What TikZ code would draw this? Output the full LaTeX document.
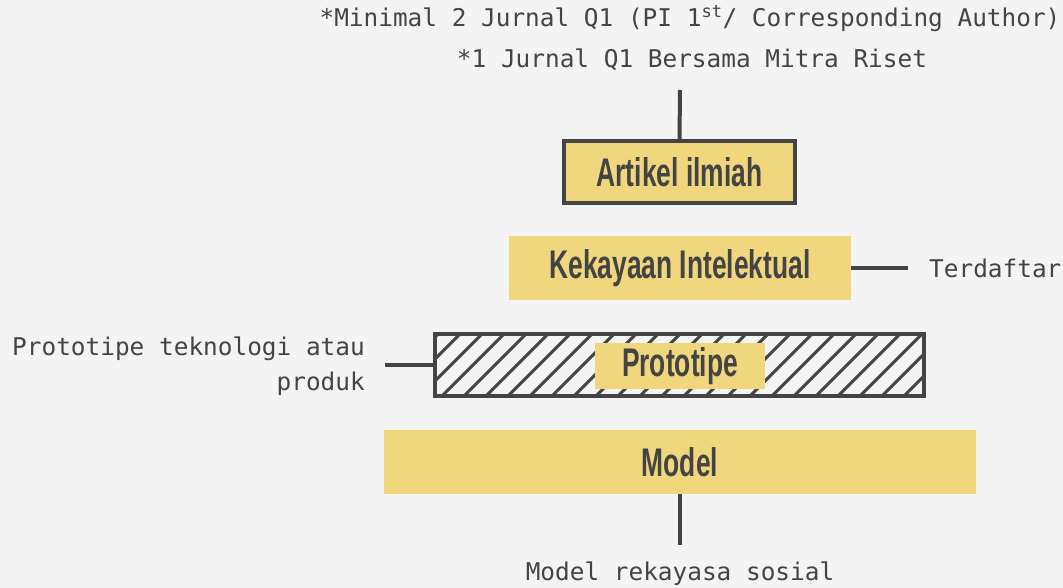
\documentclass[tikz,border=0pt]{standalone}
\usepackage{fontspec}
\setmonofont{DejaVu Sans Mono}
\newfontfamily\boxfont{Liberation Sans}[FakeStretch=0.66]
\definecolor{latar}{HTML}{F4F4F4}
\definecolor{tinta}{HTML}{444444}
\definecolor{kuning}{HTML}{F0D77E}

\begin{document}
\begin{tikzpicture}[x=1pt,y=-1pt,
	kotak/.style={fill=kuning, inner sep=0pt, text=tinta, font=\boxfont\bfseries\fontsize{40}{44}\selectfont},
	garis/.style={draw=tinta, line width=4pt},
	ket/.style={inner sep=0pt, text=tinta, font=\ttfamily\fontsize{24.4}{35}\selectfont}]
	\fill[latar] (0,0) rectangle (1063,588);
	\useasboundingbox (0,0) rectangle (1063,588);
	% keterangan
	\node[ket] (q1a) at (690,19) {*Minimal 2 Jurnal Q1 (PI 1\textsuperscript{st}/ Corresponding Author)};
	\node[ket] (q1b) at (692,60) {*1 Jurnal Q1 Bersama Mitra Riset};
	\node[ket, anchor=west] (daftar) at (929,268) {Terdaftar};
	\node[ket, anchor=east, align=right] (protoket) at (365,366) {Prototipe teknologi atau\\produk};
	\node[ket] (sosial) at (680,574) {Model rekayasa sosial};
	\coordinate (atas) at (680,90);
	\coordinate (kanan) at (908,268);
	\coordinate (kiri) at (385,365);
	\coordinate (bawah) at (680,545);
	% kotak
	\node[kotak, garis, minimum width=231pt, minimum height=62pt] (artikel) at (679.5,172.5) {Artikel ilmiah};
	\node[kotak, minimum width=342pt, minimum height=64pt] (ki) at (680,268) {Kekayaan Intelektual};
	\node[inner sep=0pt, minimum width=489pt, minimum height=62pt] (proto) at (679.5,365) {};
	\begin{scope}
		\clip (proto.south west) rectangle (proto.north east);
		\foreach \x in {352,374,...,960}
			\draw[tinta, line width=3pt] (\x,420) -- ++(110,-110);
	\end{scope}
	\draw[garis] (proto.south west) rectangle (proto.north east);
	\node[kotak, minimum width=170pt, minimum height=46pt] (prototipe) at (680,366) {Prototipe};
	\node[kotak, minimum width=592pt, minimum height=64pt] (model) at (680,462) {Model};
	% penghubung
	\draw[garis] (atas) -- (artikel.north);
	\draw[garis] (ki.east) -- (kanan);
	\draw[garis] (kiri) -- (proto.west);
	\draw[garis] (model.south) -- (bawah);
\end{tikzpicture}
\end{document}
